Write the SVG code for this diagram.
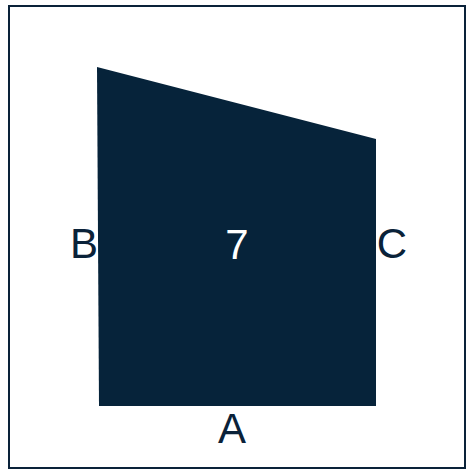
<svg xmlns="http://www.w3.org/2000/svg" width="474" height="474" viewBox="0 0 474 474">
<style>
.lbl{font-family:"Liberation Sans",Arial,sans-serif;font-size:42px;fill:#0a2239;text-anchor:middle}
.in{fill:#ffffff}
</style>
<rect x="0" y="0" width="474" height="474" fill="#ffffff"/>
<rect id="frame" x="9" y="6" width="456" height="462" fill="none" stroke="#0a2239" stroke-width="2"/>
<g id="shape">
<polygon points="97,67 376,139 376,406 99,406" fill="#06233a"/>
<text class="lbl in" x="237" y="259">7</text>
</g>
<g id="labels">
<text class="lbl" x="84" y="258">B</text>
<text class="lbl" x="392" y="258">C</text>
<text class="lbl" x="232" y="443">A</text>
</g>
</svg>
